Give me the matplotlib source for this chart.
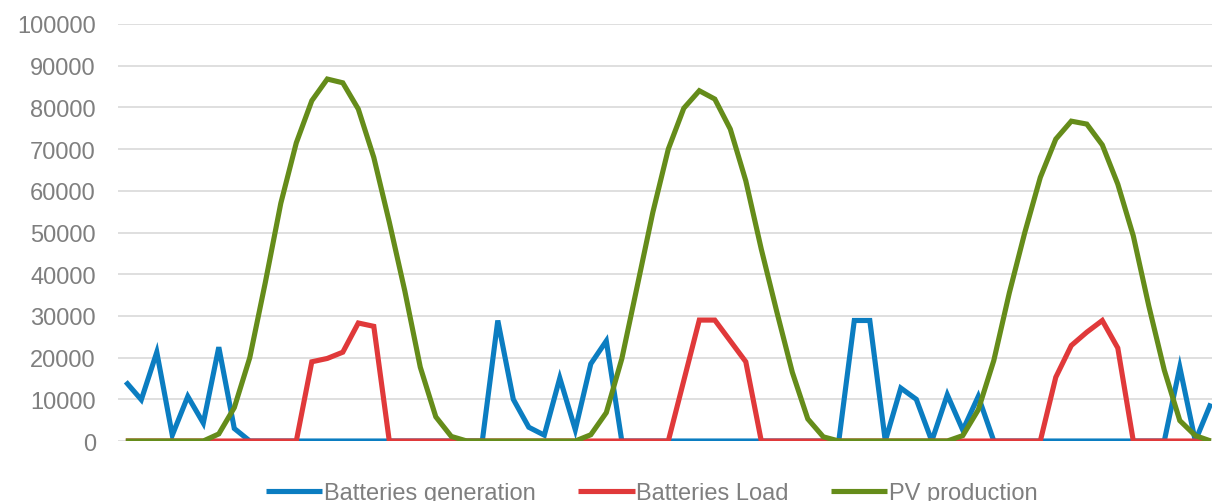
import numpy as np
import matplotlib.pyplot as plt

plt.rcParams['font.family'] = ['Liberation Sans', 'DejaVu Sans']

# hourly values, three days (chart is cropped on the right)
batteries_generation = [
    14200, 9900, 21300, 1400, 10700, 4300, 22500, 3000, 0, 0, 0, 0,
    0, 0, 0, 0, 0, 0, 0, 0, 0, 0, 0, 0,
    28900, 10000, 3300, 1400, 15100, 2700, 18500, 24000, 0, 0, 0, 0,
    0, 0, 0, 0, 0, 0, 0, 0, 0, 0, 0, 28900,
    28900, 0, 12700, 10000, 0, 11100, 2600, 10700, 0, 0, 0, 0,
    0, 0, 0, 0, 0, 0, 0, 0, 17700, 0, 9000,
]
batteries_load = [
    0, 0, 0, 0, 0, 0, 0, 0, 0, 0, 0, 0,
    19000, 19800, 21300, 28300, 27500, 0, 0, 0, 0, 0, 0, 0,
    0, 0, 0, 0, 0, 0, 0, 0, 0, 0, 0, 0,
    14500, 29000, 29000, 24000, 19000, 0, 0, 0, 0, 0, 0, 0,
    0, 0, 0, 0, 0, 0, 0, 0, 0, 0, 0, 0,
    15300, 22900, 26100, 28900, 22300, 0, 0, 0, 0, 0, 0,
]
pv_production = [
    0, 0, 0, 0, 0, 0, 1700, 8000, 20000, 38000, 57000, 71500,
    81600, 86800, 85900, 79600, 68000, 52500, 36000, 17700, 5800, 1100, 0, 0,
    0, 0, 0, 0, 0, 0, 1500, 6800, 19700, 37200, 54800, 70000,
    79800, 84000, 82000, 74800, 62400, 46000, 31000, 16500, 5300, 1000, 0, 0,
    0, 0, 0, 0, 0, 0, 1300, 7500, 19300, 35500, 50000, 63200,
    72400, 76700, 76000, 71000, 61600, 49200, 32400, 17000, 4900, 1300, 0,
]

series = [
    ("Batteries generation", batteries_generation, "#0b7dc1"),
    ("Batteries Load", batteries_load, "#e0393a"),
    ("PV production", pv_production, "#658c1a"),
]


def plot_energy(series):
    fig = plt.figure(figsize=(12.12, 5.02), dpi=100)
    ax = fig.add_axes([0.0974, 0.1195, 0.908, 0.8307])
    for label, values, color in series:
        x = np.arange(len(values))
        ax.plot(x, values, color=color, linewidth=3.7, label=label,
                solid_joinstyle='miter', solid_capstyle='butt')

    ax.set_xlim(-0.5, len(pv_production) - 0.5)
    ax.set_ylim(0, 100000)
    ax.set_yticks(np.arange(0, 100001, 10000))
    ax.set_xticks([])
    ax.grid(axis='y', color='#d9d9d9', linewidth=1.2)
    ax.set_axisbelow(True)
    for side in ['top', 'right', 'left', 'bottom']:
        ax.spines[side].set_visible(False)
    ax.tick_params(axis='y', length=0, pad=16, labelsize=17, labelcolor='#7f7f7f')

    # legend sits at the bottom edge, partly cropped like the source image
    fig.legend(loc='center', bbox_to_anchor=(0.5375, 0.016), ncol=3, frameon=False,
               fontsize=17, labelcolor='#7f7f7f', handlelength=2.4,
               handletextpad=0.05, columnspacing=1.8)
    fig.savefig('out.png', dpi=100)


plot_energy(series)
